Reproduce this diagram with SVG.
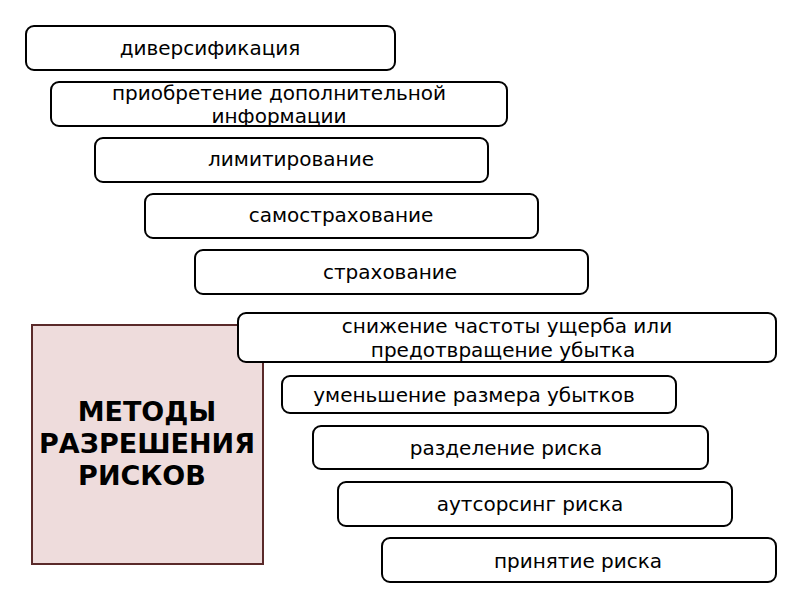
<svg xmlns="http://www.w3.org/2000/svg" width="800" height="600" viewBox="0 0 800 600">
<style>
.b{fill:#fff;stroke:#000;stroke-width:2}
.t{font-family:"DejaVu Sans",sans-serif;font-size:20px;text-anchor:middle;fill:#000}
.m{fill:#eedcdc;stroke:#5a2a2a;stroke-width:2}
.mt{font-family:"DejaVu Sans",sans-serif;font-size:27px;font-weight:bold;text-anchor:middle;fill:#000}
</style>
<rect width="800" height="600" fill="#fff"/>
<g id="main">
<rect class="m" x="32" y="325" width="231" height="239"/>
<text class="mt" x="147" y="421">МЕТОДЫ</text>
<text class="mt" x="147" y="453">РАЗРЕШЕНИЯ</text>
<text class="mt" x="142" y="485">РИСКОВ</text>
</g>
<g id="n1"><rect class="b" x="26" y="26" width="369" height="44" rx="8"/><text class="t" x="210" y="55">диверсификация</text></g>
<g id="n2"><rect class="b" x="51" y="82" width="456" height="44" rx="8"/><text class="t" x="279" y="100">приобретение дополнительной</text><text class="t" x="279" y="123">информации</text></g>
<g id="n3"><rect class="b" x="95" y="138" width="393" height="44" rx="8"/><text class="t" x="291" y="166">лимитирование</text></g>
<g id="n4"><rect class="b" x="145" y="194" width="393" height="44" rx="8"/><text class="t" x="341" y="222">самострахование</text></g>
<g id="n5"><rect class="b" x="195" y="250" width="393" height="44" rx="8"/><text class="t" x="390" y="279">страхование</text></g>
<g id="n6"><rect class="b" x="238" y="313" width="538" height="49" rx="8"/><text class="t" x="507" y="333">снижение частоты ущерба или</text><text class="t" x="503" y="357">предотвращение убытка</text></g>
<g id="n7"><rect class="b" x="282" y="376" width="394" height="37" rx="8"/><text class="t" x="474" y="402">уменьшение размера убытков</text></g>
<g id="n8"><rect class="b" x="313" y="426" width="395" height="43" rx="8"/><text class="t" x="506" y="455">разделение риска</text></g>
<g id="n9"><rect class="b" x="338" y="482" width="394" height="44" rx="8"/><text class="t" x="530" y="511">аутсорсинг риска</text></g>
<g id="n10"><rect class="b" x="382" y="538" width="394" height="44" rx="8"/><text class="t" x="578" y="568">принятие риска</text></g>
<g id="connectors"></g>
</svg>
